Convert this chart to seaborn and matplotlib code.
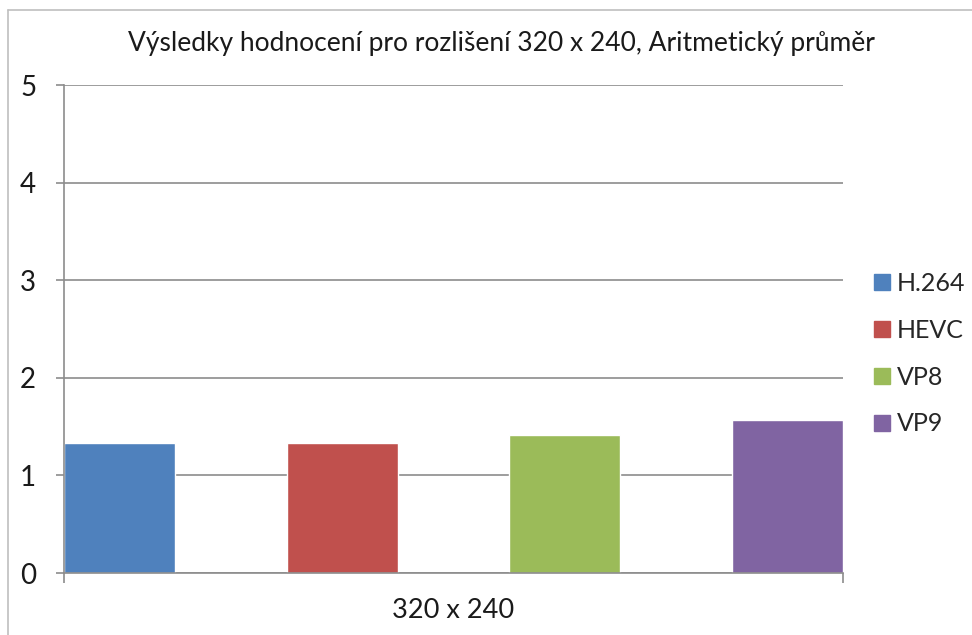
import numpy as np
import pandas as pd
import seaborn as sns
import matplotlib.pyplot as plt
from matplotlib.lines import Line2D

codecs = ['H.264', 'HEVC', 'VP8', 'VP9']
scores = [1.33, 1.33, 1.41, 1.57]
colors = ['#4F81BD', '#C0504D', '#9BBB59', '#8064A2']
category = '320 x 240'
title = 'Výsledky hodnocení pro rozlišení 320 x 240, Aritmetický průměr'

df = pd.DataFrame({'codec': codecs, 'score': scores})

sns.set_theme(style='white')
plt.rcParams['font.family'] = ['Lato', 'DejaVu Sans']

fig = plt.figure(figsize=(9.72, 6.35), dpi=100)
ax = fig.add_axes([0.0658, 0.0976, 0.8015, 0.7685])

sns.barplot(data=df, x='codec', y='score', hue='codec', palette=colors,
            width=0.5, dodge=False, legend=False, saturation=1, ax=ax)

ax.set_xlim(-0.25, 3.25)
ax.set_ylim(0, 5)
ax.set_yticks(range(6))
ax.yaxis.grid(True, color='#8c8c8c', linewidth=1.2)
ax.set_axisbelow(True)
ax.set_xticks([1.5])
ax.set_xticklabels([category], fontsize=19.5, color='#1a1a1a')
ax.set_xticks([-0.25, 3.25], minor=True)
ax.tick_params(axis='x', which='major', length=0, pad=18)
ax.tick_params(axis='x', which='minor', length=7, width=1.2, color='#8c8c8c', direction='out', bottom=True)
ax.tick_params(axis='y', length=6, width=1.2, color='#8c8c8c', direction='out', left=True, labelsize=20, labelcolor='#1a1a1a', pad=14)
ax.set_xlabel('')
ax.set_ylabel('')
for s in ['top', 'right']:
    ax.spines[s].set_visible(False)
for s in ['left', 'bottom']:
    ax.spines[s].set_color('#8c8c8c')
    ax.spines[s].set_linewidth(1.2)

fig.text(0.516, 0.932, title, ha='center', va='center', fontsize=19, color='#1a1a1a')

handles = [Line2D([], [], marker='s', linestyle='', markersize=12, markerfacecolor=c, markeredgecolor=c) for c in colors]
fig.legend(handles, codecs, loc='center left', bbox_to_anchor=(0.883, 0.443), frameon=False,
           fontsize=18, handletextpad=0.15, labelspacing=0.95, handlelength=0.9, borderpad=0)

# chart frame
fig.add_artist(Line2D([0.008, 0.008], [0, 0.985], color='#bfbfbf', linewidth=1.2, transform=fig.transFigure))
fig.add_artist(Line2D([0.008, 1.0], [0.985, 0.985], color='#bfbfbf', linewidth=1.2, transform=fig.transFigure))

fig.savefig('out.png', dpi=100)
